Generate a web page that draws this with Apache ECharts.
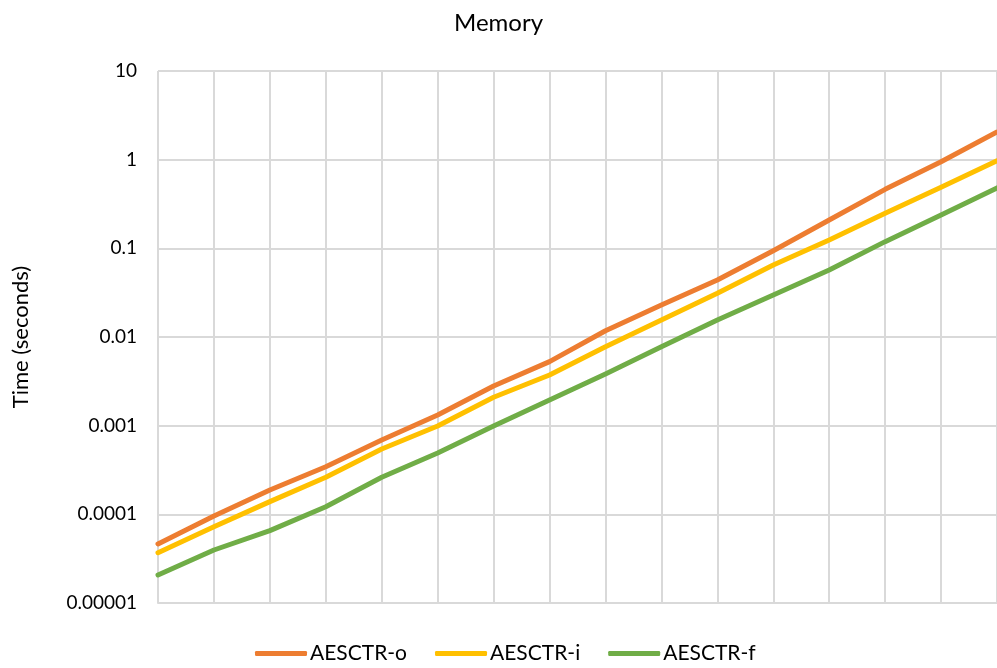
<!DOCTYPE html>
<html>
<head>
<meta charset="utf-8">
<script src="https://cdn.jsdelivr.net/npm/echarts@6/dist/echarts.min.js"></script>
<style>
  html, body { margin: 0; padding: 0; background: #fff; }
  #chart { width: 997px; height: 668px; }
</style>
</head>
<body>
<div id="chart"></div>
<script>
// Run index along the x axis (sixteen measurement points)
const categories = ["1","2","3","4","5","6","7","8","9","10","11","12","13","14","15","16"];

// Timings in seconds
const aesctrO = [4.63e-5, 9.58e-5, 1.88e-4, 3.44e-4, 6.90e-4, 1.32e-3, 2.80e-3, 5.27e-3, 0.01178, 0.0230, 0.0440, 0.0940, 0.209, 0.463, 0.949, 2.05];
const aesctrI = [3.69e-5, 7.26e-5, 1.39e-4, 2.62e-4, 5.46e-4, 9.91e-4, 2.09e-3, 3.73e-3, 7.78e-3, 0.01556, 0.0311, 0.0649, 0.124, 0.248, 0.488, 0.973];
const aesctrF = [2.07e-5, 3.96e-5, 6.55e-5, 1.22e-4, 2.62e-4, 4.92e-4, 9.91e-4, 1.95e-3, 3.83e-3, 7.78e-3, 0.01556, 0.0298, 0.0570, 0.119, 0.238, 0.480];

const seriesNames = ["AESCTR-o", "AESCTR-i", "AESCTR-f"];
const yTickLabels = ["0.00001", "0.0001", "0.001", "0.01", "0.1", "1", "10"];

const FONT = "Lato, 'Liberation Sans', sans-serif";
const GRID_COLOR = "#d9d9d9";

const chart = echarts.init(document.getElementById("chart"));

function lineSeries(name, data, color) {
  return {
    name: name,
    type: "line",
    data: data,
    symbol: "none",
    smooth: false,
    lineStyle: { width: 5, color: color, cap: "round", join: "round" },
    itemStyle: { color: color }
  };
}

chart.setOption({
  animation: false,
  backgroundColor: "#fff",
  title: {
    text: "Memory",
    left: "center",
    top: 6,
    textStyle: { fontFamily: FONT, fontSize: 24, fontWeight: "normal", color: "#000" }
  },
  legend: {
    bottom: -1,
    left: 250,
    icon: "roundRect",
    itemWidth: 52,
    itemHeight: 5,
    itemGap: 28,
    textStyle: { fontFamily: FONT, fontSize: 21, color: "#000", padding: [0, 0, 0, -2] },
    data: seriesNames
  },
  grid: { left: 158, right: -5, top: 71, bottom: 65, containLabel: false },
  xAxis: {
    type: "category",
    data: categories,
    boundaryGap: false,
    axisLine: { show: true, lineStyle: { color: GRID_COLOR, width: 2 } },
    axisTick: { show: false },
    axisLabel: { show: false },
    splitLine: { show: true, lineStyle: { color: GRID_COLOR, width: 2 } }
  },
  yAxis: {
    type: "log",
    logBase: 10,
    min: 0.00001,
    max: 10,
    name: "Time (seconds)",
    nameLocation: "middle",
    nameGap: 126,
    nameRotate: 90,
    nameTextStyle: { fontFamily: FONT, fontSize: 22, color: "#000" },
    axisLine: { show: false },
    axisTick: { show: false },
    axisLabel: {
      fontFamily: FONT,
      fontSize: 19,
      color: "#000",
      margin: 21,
      formatter: function (v) {
        const i = Math.round(Math.log10(v)) + 5;
        return yTickLabels[i] !== undefined ? yTickLabels[i] : "";
      }
    },
    splitLine: { show: true, lineStyle: { color: GRID_COLOR, width: 2 } }
  },
  series: [
    lineSeries(seriesNames[0], aesctrO, "#ed7d31"),
    lineSeries(seriesNames[1], aesctrI, "#ffc000"),
    lineSeries(seriesNames[2], aesctrF, "#70ad47")
  ]
});
</script>
</body>
</html>
